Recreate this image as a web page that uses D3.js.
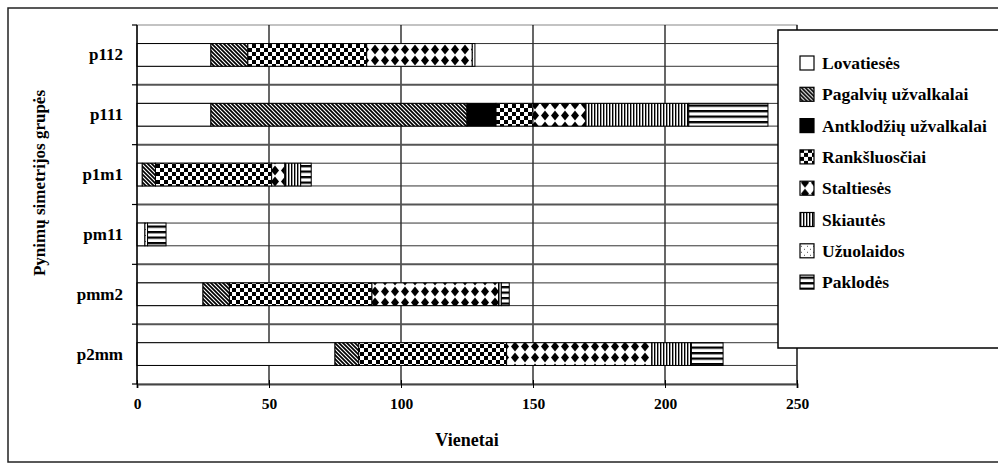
<!DOCTYPE html>
<html>
<head>
<meta charset="utf-8">
<script src="https://cdn.jsdelivr.net/npm/d3@7"></script>
<style>
  html, body { margin: 0; padding: 0; background: #fff; }
  svg { display: block; }
  text { font-family: "Liberation Serif", "Times New Roman", serif; font-weight: bold; fill: #000; }
</style>
</head>
<body>
<svg id="chart" width="998" height="470"></svg>
<script>
// ---- data ----
const categories = ["p112", "p111", "p1m1", "pm11", "pmm2", "p2mm"];
const seriesNames = ["Lovatiesės", "Pagalvių užvalkalai", "Antklodžių užvalkalai", "Rankšluosčiai",
                     "Staltiesės", "Skiautės", "Užuolaidos", "Paklodės"];
const lovatieses      = [28, 28, 2, 3, 25, 75];
const pagalviu        = [14, 97, 5, 0, 10, 9];
const antklodziu      = [0, 11, 0, 0, 0, 0];
const ranksluosciai   = [45, 14, 44, 0, 54, 56];
const staltieses      = [40, 20, 5, 0, 48, 55];
const skiautes        = [0, 39, 6, 0, 1, 15];
const uzuolaidos      = [1, 0, 0, 1, 0, 0];
const paklodes        = [0, 30, 4, 7, 3, 12];
const xTicks = [0, 50, 100, 150, 200, 250];
const xTitle = "Vienetai";
const yTitle = "Pynimų simetrijos grupės";

const seriesValues = [lovatieses, pagalviu, antklodziu, ranksluosciai, staltieses, skiautes, uzuolaidos, paklodes];
const rows = categories.map((c, i) => {
  const r = { cat: c };
  seriesNames.forEach((s, j) => r[s] = seriesValues[j][i]);
  return r;
});

// ---- layout ----
const svg = d3.select("#chart");
const plot = { left: 137, right: 797, top: 25, bottom: 384 };

const x = d3.scaleLinear().domain([0, 250]).range([plot.left, plot.right]);
const y = d3.scaleBand().domain(categories).range([plot.top, plot.bottom])
  .paddingInner(0.62).paddingOuter(0.31);
const yBand = d3.scaleBand().domain(categories).range([plot.top, plot.bottom]).padding(0);

// ---- patterns ----
const defs = svg.append("defs");
function pat(id, w, h, draw) {
  const p = defs.append("pattern").attr("id", id).attr("patternUnits", "userSpaceOnUse")
    .attr("width", w).attr("height", h);
  p.append("rect").attr("width", w).attr("height", h).attr("fill", "#fff");
  draw(p);
}
pat("p-hatch", 4, 4, p => p.append("path")
  .attr("d", "M-1,-1 L5,5 M3,-1 L5,1 M-1,3 L1,5").attr("stroke", "#000").attr("stroke-width", 1.7));
pat("p-check", 8, 8, p => {
  p.append("rect").attr("x", 0).attr("y", 0).attr("width", 4).attr("height", 4).attr("fill", "#000");
  p.append("rect").attr("x", 4).attr("y", 4).attr("width", 4).attr("height", 4).attr("fill", "#000");
});
pat("p-diamond", 10, 11, p => p.append("polygon")
  .attr("points", "5,0.5 9,5.5 5,10.5 1,5.5").attr("fill", "#000"));
pat("p-vert", 3, 3, p => p.append("rect").attr("x", 0).attr("y", 0).attr("width", 1.4).attr("height", 3).attr("fill", "#000"));
pat("p-dots", 6, 6, p => {
  p.append("rect").attr("x", 1).attr("y", 1).attr("width", 1).attr("height", 1).attr("fill", "#555");
  p.append("rect").attr("x", 4).attr("y", 4).attr("width", 1).attr("height", 1).attr("fill", "#555");
});
pat("p-horiz", 6, 5.5, p => p.append("rect").attr("x", 0).attr("y", 0).attr("width", 6).attr("height", 2.3).attr("fill", "#000"));

const fills = ["#fff", "url(#p-hatch)", "#000", "url(#p-check)", "url(#p-diamond)", "url(#p-vert)", "url(#p-dots)", "url(#p-horiz)"];
const color = d3.scaleOrdinal().domain(seriesNames).range(fills);

// ---- outer frame ----
svg.append("rect").attr("x", 8).attr("y", 8).attr("width", 1000).attr("height", 454)
  .attr("fill", "none").attr("stroke", "#222").attr("stroke-width", 1.5);

// ---- plot border & gridlines ----
svg.append("rect").attr("x", plot.left).attr("y", plot.top)
  .attr("width", plot.right - plot.left).attr("height", plot.bottom - plot.top)
  .attr("fill", "none").attr("stroke", "#888").attr("stroke-width", 1);

svg.append("g").selectAll("line").data(xTicks.slice(1)).join("line")
  .attr("x1", d => x(d)).attr("x2", d => x(d))
  .attr("y1", plot.top).attr("y2", plot.bottom)
  .attr("stroke", "#000").attr("stroke-width", 1.2);

// band boundary lines
svg.append("g").selectAll("line").data(categories.slice(1)).join("line")
  .attr("x1", plot.left).attr("x2", plot.right)
  .attr("y1", d => yBand(d)).attr("y2", d => yBand(d))
  .attr("stroke", "#555").attr("stroke-width", 2);

// bar edge lines across the plot
const edges = [];
categories.forEach(c => { edges.push(y(c)); edges.push(y(c) + y.bandwidth()); });
svg.append("g").selectAll("line").data(edges).join("line")
  .attr("x1", plot.left).attr("x2", plot.right)
  .attr("y1", d => d).attr("y2", d => d)
  .attr("stroke", "#333").attr("stroke-width", 1);

// ---- bars ----
const stacked = d3.stack().keys(seriesNames)(rows);
svg.append("g").selectAll("g").data(stacked).join("g")
  .attr("fill", d => color(d.key))
  .selectAll("rect").data(d => d.filter(s => s[1] - s[0] > 0)).join("rect")
  .attr("x", d => x(d[0]))
  .attr("width", d => x(d[1]) - x(d[0]))
  .attr("y", d => y(d.data.cat))
  .attr("height", y.bandwidth())
  .attr("stroke", "#000").attr("stroke-width", 1);

// ---- axes ----
const xAxis = svg.append("g").attr("transform", `translate(0,${plot.bottom})`)
  .call(d3.axisBottom(x).tickValues(xTicks).tickSize(4).tickPadding(10).tickFormat(d3.format("d")));
xAxis.select(".domain").attr("stroke", "#444").attr("stroke-width", 2);
xAxis.selectAll(".tick line").attr("y1", -4).attr("stroke", "#000");
xAxis.selectAll(".tick text").attr("font-size", 15.5).attr("font-family", "Liberation Serif").attr("font-weight", "bold");

const yAxis = svg.append("g").attr("transform", `translate(${plot.left},0)`)
  .call(d3.axisLeft(y).tickSize(0).tickPadding(14));
yAxis.select(".domain").remove();
yAxis.selectAll(".tick text").attr("font-size", 17).attr("font-family", "Liberation Serif").attr("font-weight", "bold");
svg.append("line").attr("x1", plot.left).attr("x2", plot.left).attr("y1", plot.top).attr("y2", plot.bottom)
  .attr("stroke", "#000").attr("stroke-width", 1.5);
const bounds = categories.map(c => yBand(c)).concat([plot.bottom]);
svg.append("g").selectAll("line").data(bounds).join("line")
  .attr("x1", plot.left - 5).attr("x2", plot.left)
  .attr("y1", d => d).attr("y2", d => d).attr("stroke", "#000").attr("stroke-width", 1.2);

// ---- titles ----
svg.append("text").attr("x", (plot.left + plot.right) / 2).attr("y", 446)
  .attr("text-anchor", "middle").attr("font-size", 18).text(xTitle);
svg.append("text").attr("transform", "translate(45,183) rotate(-90)")
  .attr("text-anchor", "middle").attr("font-size", 17).text(yTitle);

// ---- legend ----
const lg = svg.append("g");
lg.append("rect").attr("x", 778).attr("y", 30).attr("width", 240).attr("height", 318)
  .attr("fill", "#fff").attr("stroke", "#000").attr("stroke-width", 1.5);
const li = lg.selectAll("g.item").data(seriesNames).join("g").attr("class", "item")
  .attr("transform", (d, i) => `translate(800,${63 + i * 31.3})`);
li.append("rect").attr("x", 0).attr("y", -7).attr("width", 14).attr("height", 14)
  .attr("fill", d => color(d)).attr("stroke", "#000").attr("stroke-width", 1.2);
li.append("text").attr("x", 22).attr("y", 0).attr("dy", "0.35em").attr("font-size", 17.5).text(d => d);
</script>
</body>
</html>
